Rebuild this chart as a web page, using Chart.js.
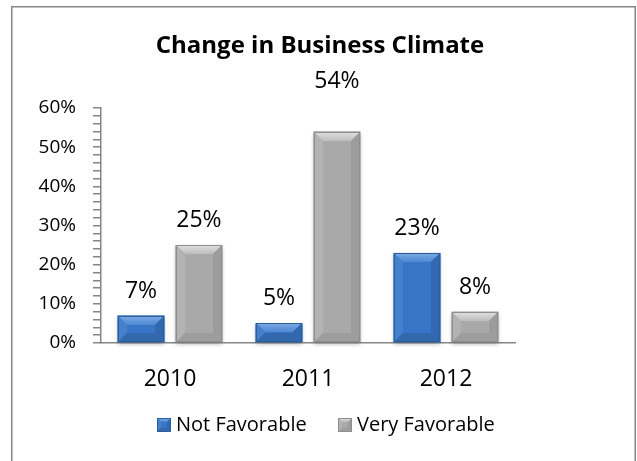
<!DOCTYPE html>
<html>
<head>
<meta charset="utf-8">
<script src="https://cdn.jsdelivr.net/npm/chart.js@4/dist/chart.umd.min.js"></script>
<style>
  html, body { margin: 0; padding: 0; background: #fff; }
  #wrap { width: 637px; height: 461px; }
</style>
</head>
<body>
<div id="wrap"><canvas id="climateChart" width="637" height="461"></canvas></div>
<script>
// Change in business climate, share of respondents per year
const years = ['2010', '2011', '2012'];
const notFavorable = [7, 5, 23];
const veryFavorable = [25, 54, 8];
const yTicks = [0, 10, 20, 30, 40, 50, 60];

const FONT = '"Open Sans", "Noto Sans", sans-serif';
const AXIS_GREY = '#868686';

// Bevelled look for each series: face, top, left, right, bottom, outline
const bevelBlue = { face: '#3775c6', top: ['#7eaae4', '#4d87d3'], left: '#4580cd', right: '#3168b0', bottom: '#3368ad', edge: '#2d5d9b' };
const bevelGrey = { face: '#a9a9a9', top: ['#e0e0e0', '#bdbdbd'], left: '#b3b3b3', right: '#9c9c9c', bottom: '#9d9d9d', edge: '#8e8e8e' };

// the 2011 "Very Favorable" label sits well above its bar
const labelLift = { '1-1': 26 };

function poly(ctx, pts, fill) {
    ctx.beginPath();
    ctx.moveTo(pts[0][0], pts[0][1]);
    for (let i = 1; i < pts.length; i++) ctx.lineTo(pts[i][0], pts[i][1]);
    ctx.closePath();
    ctx.fillStyle = fill;
    ctx.fill();
}

function drawBevelBox(ctx, l, t, r, b, s, size) {
    const h = b - t, w = r - l;
    const k = Math.min(size, h / 2, w / 2);
    ctx.save();
    ctx.fillStyle = s.face;
    ctx.fillRect(l, t, w, h);
    const g = ctx.createLinearGradient(0, t, 0, t + k);
    g.addColorStop(0, s.top[0]);
    g.addColorStop(1, s.top[1]);
    poly(ctx, [[l, t], [r, t], [r - k, t + k], [l + k, t + k]], g);
    poly(ctx, [[l, t], [l + k, t + k], [l + k, b - k], [l, b]], s.left);
    poly(ctx, [[r, t], [r, b], [r - k, b - k], [r - k, t + k]], s.right);
    poly(ctx, [[l, b], [r, b], [r - k, b - k], [l + k, b - k]], s.bottom);
    ctx.strokeStyle = s.edge;
    ctx.lineWidth = 1;
    ctx.strokeRect(l + 0.5, t + 0.5, w - 1, h - 1);
    ctx.restore();
}

// Paints the bevel over every bar, then the value labels on top
const bevelBars = {
    id: 'bevelBars',
    afterDatasetsDraw(chart) {
        const ctx = chart.ctx;
        chart.data.datasets.forEach((ds, di) => {
            const style = di === 0 ? bevelBlue : bevelGrey;
            chart.getDatasetMeta(di).data.forEach((bar, i) => {
                const l = bar.x - bar.width / 2, r = bar.x + bar.width / 2;
                // soft shadow under the bar
                ctx.save();
                ctx.shadowColor = 'rgba(0,0,0,0.3)';
                ctx.shadowBlur = 4;
                ctx.shadowOffsetY = 2;
                ctx.fillStyle = style.face;
                ctx.fillRect(l, bar.y, r - l, bar.base - bar.y);
                ctx.restore();
                drawBevelBox(ctx, Math.round(l), Math.round(bar.y), Math.round(r), Math.round(bar.base), style, 9);

                ctx.save();
                ctx.font = '23px ' + FONT;
                ctx.fillStyle = '#000';
                ctx.textAlign = 'center';
                ctx.textBaseline = 'alphabetic';
                const lift = labelLift[di + '-' + i] || 0;
                ctx.fillText(ds.data[i] + '%', bar.x, bar.y - 18 - lift);
                ctx.restore();
            });
        });
    }
};

// Frame, title and legend
const decorations = {
    id: 'decorations',
    afterDraw(chart) {
        const ctx = chart.ctx;
        ctx.save();
        ctx.strokeStyle = AXIS_GREY;
        ctx.lineWidth = 1.5;
        ctx.strokeRect(11.75, 6.75, 623.5, 470);

        ctx.fillStyle = '#000';
        ctx.font = 'bold 24px ' + FONT;
        ctx.textAlign = 'center';
        ctx.textBaseline = 'middle';
        ctx.fillText('Change in Business Climate', 320, 46);

        const items = [
            { text: 'Not Favorable', style: bevelBlue, x: 157 },
            { text: 'Very Favorable', style: bevelGrey, x: 338 }
        ];
        ctx.font = '20px ' + FONT;
        ctx.textAlign = 'left';
        items.forEach(it => {
            drawBevelBox(ctx, it.x, 418, it.x + 14, 432, it.style, 4);
            ctx.fillStyle = '#000';
            ctx.fillText(it.text, it.x + 19, 425);
        });
        ctx.restore();
    }
};

new Chart(document.getElementById('climateChart'), {
    type: 'bar',
    data: {
        labels: years,
        datasets: [
            { label: 'Not Favorable', data: notFavorable, backgroundColor: bevelBlue.face },
            { label: 'Very Favorable', data: veryFavorable, backgroundColor: bevelGrey.face }
        ]
    },
    options: {
        responsive: false,
        animation: false,
        devicePixelRatio: 1,
        categoryPercentage: 0.84,
        barPercentage: 0.81,
        layout: { padding: { left: 0, top: 108, right: 122, bottom: 58 } },
        plugins: {
            legend: { display: false },
            title: { display: false },
            tooltip: { enabled: false }
        },
        scales: {
            x: {
                grid: { display: false, drawTicks: false },
                border: { color: AXIS_GREY, width: 1.5 },
                ticks: { color: '#000', font: { family: FONT, size: 23 }, padding: 23 },
                afterFit(scale) { scale.height = 60; }
            },
            y: {
                min: 0,
                max: 60,
                grid: { drawOnChartArea: false, tickLength: 8, color: AXIS_GREY, lineWidth: 1.5 },
                border: { color: AXIS_GREY, width: 1.5 },
                ticks: {
                    stepSize: 2,
                    autoSkip: false,
                    color: '#000',
                    font: { family: FONT, size: 19 },
                    padding: 17,
                    callback: v => yTicks.includes(v) ? v + '%' : ''
                },
                afterFit(scale) { scale.width = 101; }
            }
        }
    },
    plugins: [bevelBars, decorations]
});
</script>
</body>
</html>
